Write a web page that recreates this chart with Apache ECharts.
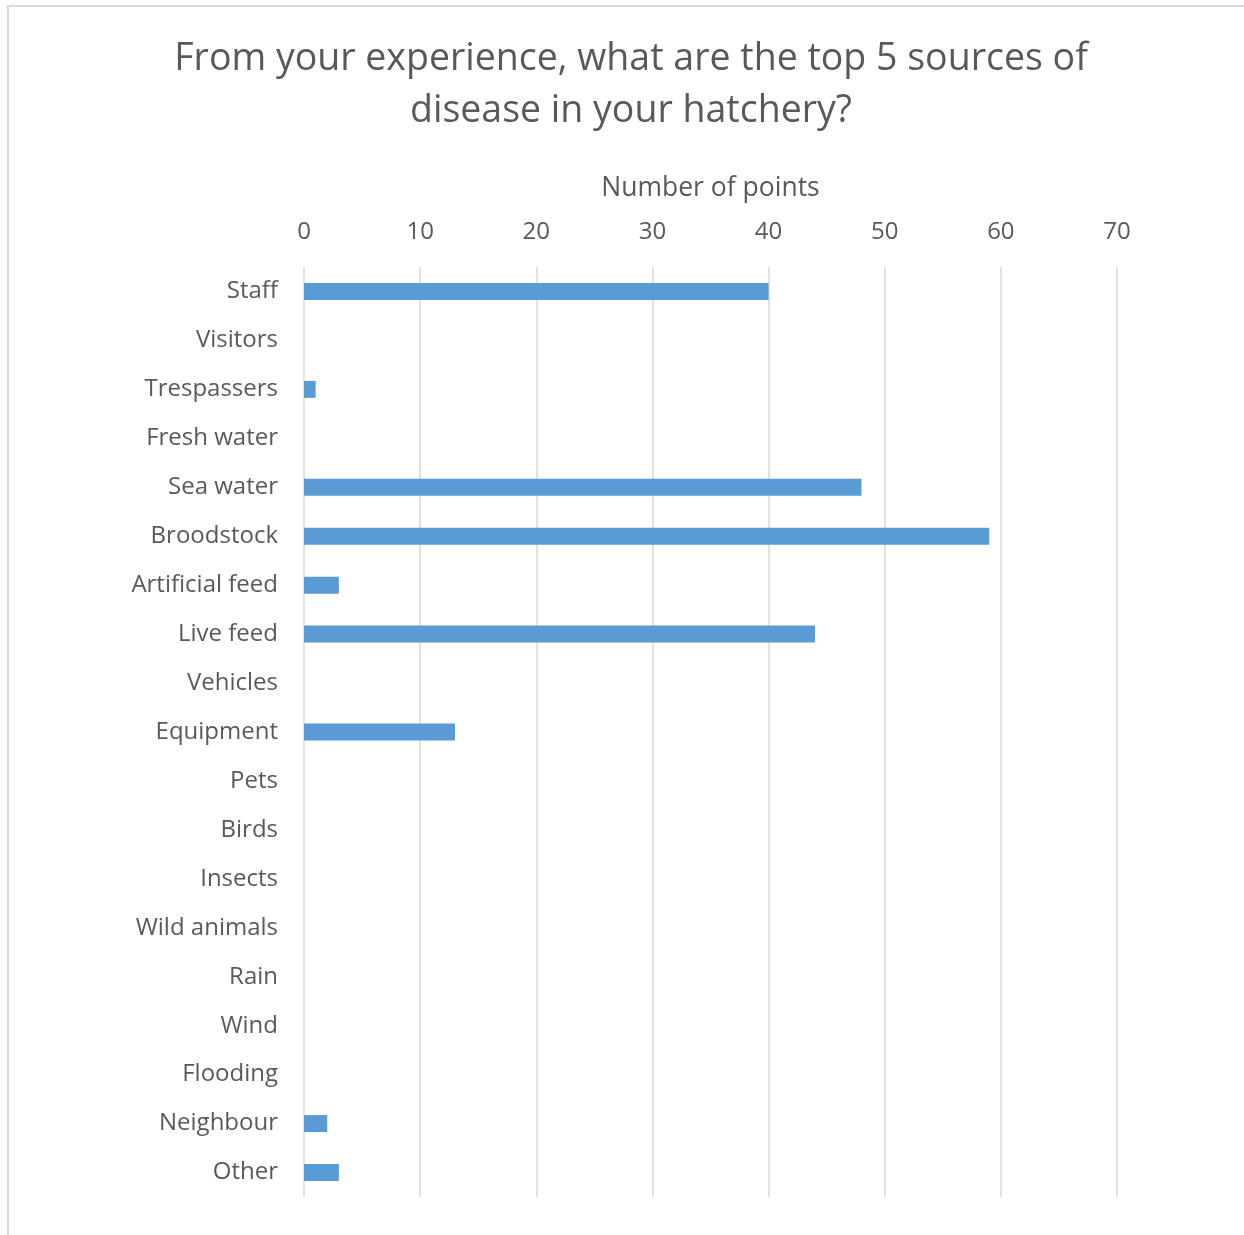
<!DOCTYPE html>
<html><head><meta charset="utf-8">
<script src="https://cdn.jsdelivr.net/npm/echarts@6/dist/echarts.min.js"></script>
<style>html,body{margin:0;padding:0;background:#fff}#c{width:1244px;height:1235px}</style>
</head><body><div id="c"></div>
<script>
const categories = ["Staff","Visitors","Trespassers","Fresh water","Sea water","Broodstock","Artificial feed","Live feed","Vehicles","Equipment","Pets","Birds","Insects","Wild animals","Rain","Wind","Flooding","Neighbour","Other"];
const points = [40,0,1,0,48,59,3,44,0,13,0,0,0,0,0,0,0,2,3];
const xTicks = {min:0, max:70, interval:10};
const titleLines = ["From your experience, what are the top 5 sources of","disease in your hatchery?"];
const axisTitle = "Number of points";

const FONT = '"Open Sans", "Noto Sans", sans-serif';
const chart = echarts.init(document.getElementById('c'));
chart.setOption({
  animation:false,
  backgroundColor:'#fff',
  graphic:[
    {type:'rect', shape:{x:7,y:5,width:1237,height:2}, style:{fill:'#d9d9d9'}},
    {type:'rect', shape:{x:7,y:5,width:2,height:1230}, style:{fill:'#d9d9d9'}},
    {type:'text', x:631, y:33, style:{text:titleLines.join('\n'), textAlign:'center', fill:'#595959', font:'37.5px "Open Sans", sans-serif', lineHeight:52}}
  ],
  grid:{left:304, right:127, top:267, bottom:38, containLabel:false},
  xAxis:{type:'value', position:'top', min:xTicks.min, max:xTicks.max, interval:xTicks.interval,
    name:axisTitle, nameLocation:'middle', nameGap:65,
    nameTextStyle:{color:'#595959', fontSize:26.5, fontFamily:FONT},
    axisLine:{show:false}, axisTick:{show:false},
    axisLabel:{color:'#595959', fontSize:24, fontFamily:FONT, margin:23},
    splitLine:{show:true, lineStyle:{color:'#d9d9d9', width:1.5}}},
  yAxis:{type:'category', data:categories, inverse:true,
    axisLine:{show:false}, axisTick:{show:false},
    axisLabel:{color:'#595959', fontSize:24, fontFamily:FONT, margin:26}},
  series:[{type:'bar', data:points, barWidth:17, itemStyle:{color:'#5b9bd5'}}]
});
</script></body></html>
